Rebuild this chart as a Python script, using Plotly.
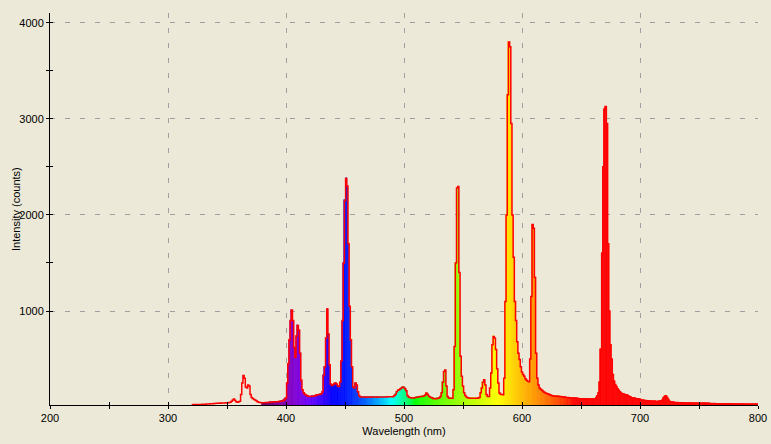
import plotly.graph_objects as go

# ---- data ----
wl_start = 320
intensity = [
    25, 25, 26, 25, 27, 28, 26, 27, 28, 30,            # 320
    30, 31, 30, 32, 33, 32, 34, 35, 36, 38,            # 330
    38, 40, 39, 41, 42, 40, 43, 44, 42, 45,            # 340
    42, 45, 48, 50, 60, 75, 85, 70, 55, 50,            # 350
    55, 60, 130, 250, 330, 300, 210, 200, 230, 220,    # 360
    130, 100, 90, 80, 75, 65, 55, 50, 48, 45,          # 370
    45, 45, 46, 47, 48, 48, 50, 50, 52, 52,            # 380
    53, 55, 55, 57, 58, 60, 62, 65, 70, 80,            # 390
    95, 250, 450, 700, 900, 1010, 900, 620, 520, 740,  # 400
    850, 800, 560, 280, 180, 150, 135, 125, 118, 112,  # 410
    110, 110, 112, 112, 115, 120, 125, 128, 130, 135,  # 420
    140, 160, 330, 420, 720, 1020, 760, 440, 240, 225, # 430
    233, 245, 250, 240, 220, 215, 260, 480, 900, 1500, # 440
    2150, 2380, 2300, 1700, 1050, 700, 420, 210, 200, 250,  # 450
    230, 160, 120, 108, 105, 105, 104, 105, 103, 104,  # 460
    105, 104, 103, 105, 104, 105, 104, 103, 105, 104,  # 470
    105, 106, 105, 104, 106, 106, 107, 108, 108, 108,  # 480
    108, 110, 120, 135, 160, 175, 180, 190, 200, 210,  # 490
    205, 190, 170, 120, 105, 100, 98, 95, 96, 98,      # 500
    100, 102, 105, 108, 110, 110, 112, 115, 125, 146,  # 510
    135, 115, 104, 100, 95, 90, 88, 88, 90, 92,        # 520
    98, 110, 150, 260, 370, 385, 220, 110, 96, 92,     # 530
    92, 92, 180, 630, 1500, 2280, 2295, 1400, 530, 320,  # 540
    220, 150, 120, 105, 98, 95, 93, 92, 92, 92,        # 550
    92, 92, 93, 95, 100, 150, 200, 260, 285, 230,      # 560
    130, 111, 111, 200, 354, 650, 735, 720, 600, 400,  # 570
    250, 146, 135, 130, 129, 300, 1100, 2000, 3250, 3800,  # 580
    3750, 2950, 2000, 1560, 1100, 900, 680, 560, 495, 420,  # 590
    365, 340, 322, 295, 280, 270, 265, 500, 1150, 1900,     # 600
    1860, 1350, 560, 300, 230, 200, 185, 175, 163, 155,     # 610
    148, 142, 138, 132, 126, 122, 118, 116, 114, 113,  # 620
    112, 111, 111, 110, 108, 106, 104, 102, 100, 99,   # 630
    98, 97, 96, 95, 94, 92, 91, 90, 89, 88,            # 640
    88, 87, 87, 86, 86, 85, 85, 84, 84, 84,            # 650
    84, 84, 85, 100, 118, 150, 260, 600, 1600, 2500,   # 660
    3100, 3127, 2950, 1700, 1000, 650, 500, 340, 270, 235,  # 670
    215, 190, 175, 160, 148, 140, 135, 132, 129, 125,  # 680
    118, 110, 104, 98, 95, 92, 90, 88, 86, 85,         # 690
    80, 75, 72, 70, 70, 68, 66, 65, 64, 62,            # 700
    60, 60, 60, 60, 58, 58, 60, 62, 65, 72,            # 710
    95, 110, 118, 100, 80, 62, 55, 52, 50, 49,         # 720
    48, 47, 47, 46, 46, 45, 45, 44, 44, 43,            # 730
    43, 43, 42, 42, 42, 41, 41, 41, 40, 40,            # 740
    40, 40, 40, 39, 39, 39, 38, 38, 38, 38,            # 750
    37, 37, 37, 37, 36, 36, 36, 36, 35, 35,            # 760
    35, 35, 35, 34, 34, 34, 34, 34, 33, 33,            # 770
    33, 33, 33, 33, 32, 32, 32, 32, 32, 31,            # 780
    31, 31, 31, 31, 31, 30, 30, 30, 30, 30, 30,        # 790-800
]
wavelength = list(range(wl_start, wl_start + len(intensity)))

x_ticks = [200, 300, 400, 500, 600, 700, 800]
x_minor = [250, 350, 450, 550, 650, 750]
y_ticks = [1000, 2000, 3000, 4000]
y_minor = [1500, 2500, 3500]
x_range = [200, 800]
y_range = [22, 4101]
x_title = "Wavelength (nm)"
y_title = "Intensity (counts)"
visible_from = 380  # coloured fill begins here


def wl_color(w):
    if 380 <= w < 440:
        r, g, b = -(w - 440) / 60.0, 0.0, 1.0
    elif w < 490:
        r, g, b = 0.0, ((w - 440) / 50.0) ** 2, 1.0
    elif w < 510:
        r, g, b = 0.0, 1.0, -(w - 510) / 20.0
    elif w < 580:
        r, g, b = (w - 510) / 70.0, 1.0, 0.0
    elif w < 645:
        r, g, b = 1.0, -(w - 645) / 65.0, 0.0
    else:
        r, g, b = 1.0, 0.0, 0.0
    f = 1.0
    if w < 420:
        f = 0.3 + 0.7 * (w - 380) / 40.0
    gam = 0.8
    c = [int(round(255 * (v * f) ** gam)) if v > 0 else 0 for v in (r, g, b)]
    return "rgb(%d,%d,%d)" % tuple(c)


fill_x = [w for w in wavelength if w >= visible_from]
fill_y = [v for w, v in zip(wavelength, intensity) if w >= visible_from]
fill_c = [wl_color(w) for w in fill_x]

BG = "#ECE9D8"
FONT = dict(family="Liberation Sans, Arial, sans-serif", size=11, color="black")

fig = go.Figure()
fig.add_trace(go.Bar(
    x=fill_x, y=fill_y, width=1.0,
    marker=dict(color=fill_c, line=dict(color=fill_c, width=0.6)),
    hoverinfo="skip", showlegend=False,
))
fig.add_trace(go.Scatter(
    x=wavelength, y=intensity, mode="lines",
    line=dict(color="#FF0000", width=1.5, shape="hvh"),
    showlegend=False, hoverinfo="skip",
))
# invisible trace to realise the overlay axes (inside half of crossing ticks)
fig.add_trace(go.Scatter(x=[x_range[0]], y=[y_range[0]], xaxis="x2", yaxis="y2",
                         mode="markers", marker=dict(opacity=0), showlegend=False,
                         hoverinfo="skip"))

grid = dict(showgrid=True, gridcolor="#A0A0A0", gridwidth=1, griddash="5px,10px")

fig.update_layout(
    width=771, height=444,
    paper_bgcolor=BG, plot_bgcolor=BG,
    margin=dict(l=50, r=13, t=13, b=39, autoexpand=False),
    font=FONT,
    bargap=0,
    xaxis=dict(
        range=x_range, tickvals=x_ticks, ticks="outside", ticklen=3, tickcolor="black",
        showline=True, linecolor="black", linewidth=1, zeroline=False, automargin=False,
        minor=dict(tickvals=x_minor, ticks="outside", ticklen=3, tickcolor="black", showgrid=False),
        title=dict(text=x_title, standoff=4, font=FONT),
        tickfont=FONT, **grid,
    ),
    yaxis=dict(
        range=y_range, tickvals=y_ticks, ticks="outside", ticklen=3, tickcolor="black",
        showline=True, linecolor="black", linewidth=1, zeroline=False, automargin=False,
        minor=dict(tickvals=y_minor, ticks="outside", ticklen=3, tickcolor="black", showgrid=False),
        tickfont=FONT, **grid,
    ),
    xaxis2=dict(
        range=x_range, overlaying="x", anchor="y2", side="bottom", automargin=False,
        tickvals=x_ticks, ticks="inside", ticklen=3, tickcolor="black",
        minor=dict(tickvals=x_minor, ticks="inside", ticklen=3, tickcolor="black"),
        showticklabels=False, showgrid=False, showline=False, zeroline=False,
    ),
    yaxis2=dict(
        range=y_range, overlaying="y", anchor="x2", side="left", automargin=False,
        tickvals=y_ticks, ticks="inside", ticklen=3, tickcolor="black",
        minor=dict(tickvals=y_minor, ticks="inside", ticklen=3, tickcolor="black"),
        showticklabels=False, showgrid=False, showline=False, zeroline=False,
    ),
    annotations=[dict(
        text=y_title, textangle=-90, xref="paper", yref="paper",
        x=(16 - 50) / 708.0, y=0.5, xanchor="center", yanchor="middle",
        showarrow=False, font=FONT,
    )],
)

fig.write_html(
    "out.html",
    config={"displayModeBar": False},
    post_script="document.body.style.margin='0';document.body.style.overflow='hidden';",
)
